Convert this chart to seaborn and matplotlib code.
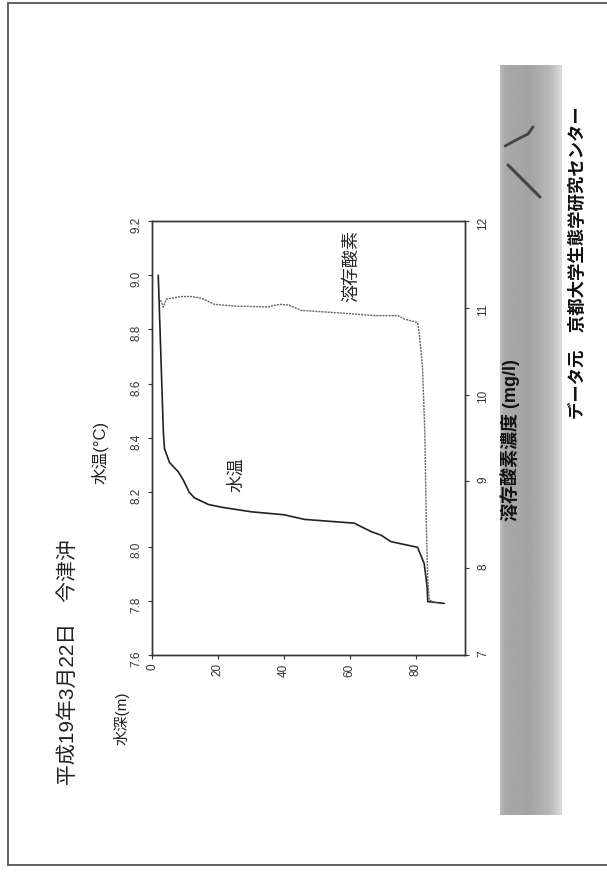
import numpy as np
import pandas as pd
import matplotlib
matplotlib.use('Agg')
import matplotlib.pyplot as plt
import seaborn as sns
from matplotlib.lines import Line2D

# water temperature profile (depth m, deg C)
temp_depth = [1.9, 3.45, 3.8, 5.3, 8.0, 9.5, 11.3, 12.8, 17.1, 21.0, 30.1, 40.1, 46.2,
              61.4, 63.5, 66.5, 69.5, 72.5, 80.6, 82.6, 83.5, 83.7, 88.7]
temp_c = [9.00, 8.42, 8.36, 8.31, 8.275, 8.245, 8.20, 8.18, 8.155, 8.145, 8.128, 8.117, 8.10,
          8.086, 8.073, 8.055, 8.042, 8.018, 7.997, 7.938, 7.852, 7.797, 7.79]

# dissolved oxygen profile (depth m, mg/l)
do_depth = [2.6, 3.4, 4.4, 8.9, 11.9, 15.0, 19.0, 25.0, 35.2, 38.7, 41.7, 45.3, 57.4,
            67.5, 74.6, 76.6, 80.6, 81.1, 82.1, 82.8, 83.3, 83.7, 84.2, 86.7]
do_mg = [11.09, 11.01, 11.10, 11.13, 11.13, 11.11, 11.04, 11.02, 11.01, 11.04, 11.03, 10.97, 10.94,
         10.91, 10.91, 10.87, 10.83, 10.71, 10.32, 9.57, 8.44, 7.86, 7.63, 7.60]

depth_ticks = [0, 20, 40, 60, 80]
temp_ticks = [7.6, 7.8, 8.0, 8.2, 8.4, 8.6, 8.8, 9.0, 9.2]
do_ticks = [7, 8, 9, 10, 11, 12]

title = '平成19年3月22日　今津沖'
source = 'データ元　京都大学生態学研究センター'

sns.set_theme(style='ticks')
plt.rcParams['font.family'] = ['Liberation Sans', 'Noto Sans CJK JP']

W, H = 607, 874
fig = plt.figure(figsize=(W / 100, H / 100), dpi=100)
fig.patch.set_facecolor('white')

def fx(px):
    return px / W

def fy(py):
    return 1 - py / H

# page border
for (x0, y0, x1, y1) in [(8, 3, 8, 865), (8, 3, 607, 3), (8, 865, 607, 865)]:
    fig.add_artist(Line2D([fx(x0), fx(x1)], [fy(y0), fy(y1)], color='#555555', lw=1.3))

# grey gradient band on the right
bar = fig.add_axes([fx(500), fy(815), fx(562) - fx(500), fy(65) - fy(815)])
c = np.linspace(0, 1, 80)
g = np.interp(c, [0, 0.08, 0.5, 0.8, 1.0], [0.74, 0.66, 0.64, 0.72, 0.86])[None, :]
bar.imshow(g, cmap='gray', vmin=0, vmax=1, aspect='auto')
bar.axis('off')

# decorative strokes
fig.add_artist(Line2D([fx(505), fx(518), fx(528), fx(533)], [fy(146), fy(139), fy(134), fy(127)],
                      color='#444444', lw=2.0))
fig.add_artist(Line2D([fx(508), fx(540)], [fy(165), fy(197)], color='#444444', lw=2.2))

ax = fig.add_axes([fx(152), fy(655), fx(465) - fx(152), fy(221) - fy(655)])
ax2 = ax.twinx()

sns.lineplot(x=temp_depth, y=temp_c, ax=ax, color='#222222', lw=1.2, estimator=None, sort=False)
sns.lineplot(x=do_depth, y=do_mg, ax=ax2, color='#666666', lw=1.0, estimator=None, sort=False,
             linestyle=(0, (1.5, 0.7)))

ax.set_xlim(0, 95)
ax.set_ylim(7.6, 9.2)
ax2.set_ylim(7, 12)
ax.set_xticks(depth_ticks)
ax.set_xticklabels([str(d) for d in depth_ticks])
ax.set_yticks(temp_ticks)
ax.set_yticklabels([f'{t:.1f}' for t in temp_ticks])
ax2.set_yticks(do_ticks)
ax2.set_yticklabels([str(t) for t in do_ticks])
ax.set_xlabel('')
ax.set_ylabel('')
ax2.set_ylabel('')

for a in (ax, ax2):
    a.patch.set_alpha(0)
    for s in a.spines.values():
        s.set_visible(True)
        s.set_color('#333333')
        s.set_linewidth(1.0)
    a.tick_params(length=3, width=0.8, color='#333333', labelsize=8.5, labelcolor='#333333')
ax.tick_params(axis='y', labelrotation=90, pad=4)
ax.tick_params(axis='x', labelrotation=90, pad=3)
ax2.tick_params(axis='y', labelrotation=90, pad=6)

# texts
fig.text(fx(68), fy(662), title, rotation=90, fontsize=15, ha='center', va='center', color='#222222')
fig.text(fx(100), fy(452), '水温(°C)', rotation=90, fontsize=12, ha='center', va='center', color='#222222')
fig.text(fx(122), fy(718), '水深(m)', rotation=90, fontsize=11, ha='center', va='center', color='#222222')
fig.text(fx(510), fy(440), '溶存酸素濃度 (mg/l)', rotation=90, fontsize=13, ha='center', va='center',
         color='#111111', weight='bold')
fig.text(fx(236), fy(475), '水温', rotation=90, fontsize=12.5, ha='center', va='center', color='#222222')
fig.text(fx(352), fy(266), '溶存酸素', rotation=90, fontsize=13, ha='center', va='center', color='#222222')
fig.text(fx(577), fy(263), source, rotation=90, fontsize=12.5, ha='center', va='center', color='#111111',
         weight='bold')

fig.savefig('out.png', dpi=100, facecolor='white')
